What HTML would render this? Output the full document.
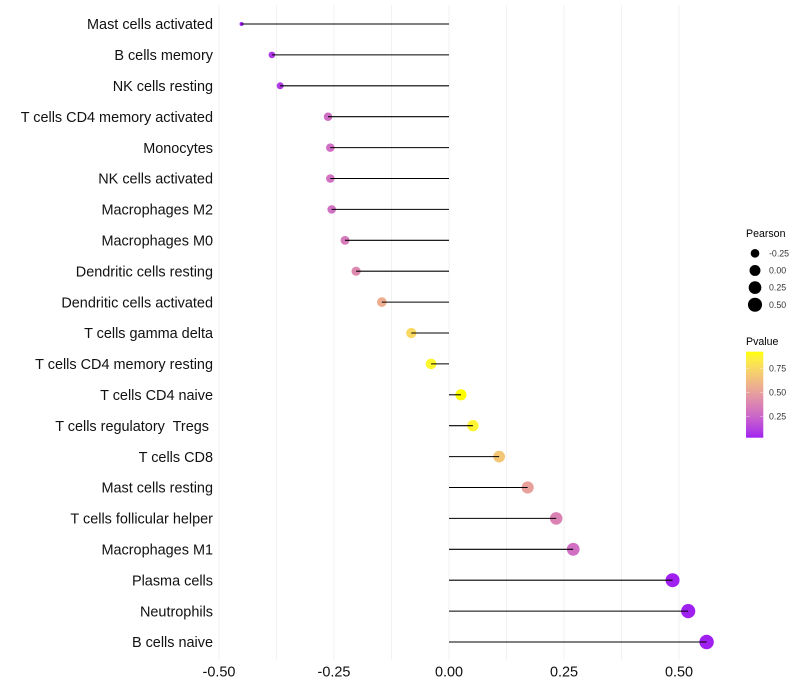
<!DOCTYPE html>
<html>
<head>
<meta charset="utf-8">
<title>Immune cell correlation lollipop chart</title>
<style>
html,body{margin:0;padding:0;background:#fff;}
svg{display:block;font-family:"Liberation Sans",sans-serif;}
text{white-space:pre;}
</style>
</head>
<body>
<svg id="chart" xmlns="http://www.w3.org/2000/svg" width="800" height="700" viewBox="0 0 800 700"></svg>
<script>
const categories = ["Mast cells activated","B cells memory","NK cells resting","T cells CD4 memory activated","Monocytes","NK cells activated","Macrophages M2","Macrophages M0","Dendritic cells resting","Dendritic cells activated","T cells gamma delta","T cells CD4 memory resting","T cells CD4 naive","T cells regulatory  Tregs ","T cells CD8","Mast cells resting","T cells follicular helper","Macrophages M1","Plasma cells","Neutrophils","B cells naive"];
const pearson = [-0.451,-0.385,-0.367,-0.263,-0.258,-0.258,-0.255,-0.226,-0.202,-0.146,-0.082,-0.039,0.026,0.052,0.109,0.171,0.233,0.27,0.486,0.52,0.56];
const pvalue = [0.03,0.09,0.1,0.28,0.29,0.3,0.3,0.34,0.4,0.56,0.75,0.88,0.92,0.87,0.67,0.5,0.37,0.29,0.03,0.03,0.03];
const xTicks = [-0.5,-0.25,0,0.25,0.5];
const xMinorTicks = [-0.375,-0.125,0.125,0.375];
const xTickLabels = ["-0.50","-0.25","0.00","0.25","0.50"];
const sizeLegendValues = [-0.25,0,0.25,0.5];
const sizeLegendLabels = ["-0.25","0.00","0.25","0.50"];
const colorLegendValues = [0.25,0.5,0.75];
const colorLegendLabels = ["0.25","0.50","0.75"];

const svg = document.getElementById('chart');
const NS = 'http://www.w3.org/2000/svg';
function add(parent, tag, attrs, txt){
  const e = document.createElementNS(NS, tag);
  for (const k in attrs) e.setAttribute(k, attrs[k]);
  if (txt !== undefined) e.textContent = txt;
  parent.appendChild(e);
  return e;
}
const xScale = v => 449 + v * 460;
const yScale = i => 24 + i * 30.9;
const pMin = 0.03, pMax = 0.92;
const rScale = v => {
  const t = Math.max(0, (v - (-0.451)) / (0.56 - (-0.451)));
  return (4 + 10.4 * Math.sqrt(t)) / 2;
};
function toLab(c){
  const f = u => { u /= 255; return u <= 0.04045 ? u / 12.92 : Math.pow((u + 0.055) / 1.055, 2.4); };
  const r = f(c[0]), g = f(c[1]), b = f(c[2]);
  const h = t => t > 0.008856 ? Math.cbrt(t) : 7.787 * t + 16 / 116;
  const X = h((0.4124 * r + 0.3576 * g + 0.1805 * b) / 0.95047);
  const Y = h(0.2126 * r + 0.7152 * g + 0.0722 * b);
  const Z = h((0.0193 * r + 0.1192 * g + 0.9505 * b) / 1.08883);
  return [116 * Y - 16, 500 * (X - Y), 200 * (Y - Z)];
}
function fromLab(l){
  const fy = (l[0] + 16) / 116, fx = l[1] / 500 + fy, fz = fy - l[2] / 200;
  const h = t => t * t * t > 0.008856 ? t * t * t : (t - 16 / 116) / 7.787;
  const X = h(fx) * 0.95047, Y = h(fy), Z = h(fz) * 1.08883;
  const g = u => { u = Math.min(1, Math.max(0, u)); return Math.round(255 * (u <= 0.0031308 ? 12.92 * u : 1.055 * Math.pow(u, 1 / 2.4) - 0.055)); };
  return 'rgb(' + g(3.2406 * X - 1.5372 * Y - 0.4986 * Z) + ',' + g(-0.9689 * X + 1.8758 * Y + 0.0415 * Z) + ',' + g(0.0557 * X - 0.204 * Y + 1.057 * Z) + ')';
}
const labLow = toLab([160, 32, 240]), labHigh = toLab([255, 255, 0]);
function colorScale(p){
  const t = Math.min(1, Math.max(0, (p - pMin) / (pMax - pMin)));
  return fromLab(labLow.map((v, i) => v + (labHigh[i] - v) * t));
}

// gridlines
const gridGroup = add(svg, 'g', {});


xMinorTicks.concat(xTicks).forEach(v => {
  const l = add(gridGroup, 'line', {x1: xScale(v), x2: xScale(v), y1: 5, y2: 660, stroke: '#f2f2f2', 'stroke-width': 1});
  
  
});

// points and stems
const markGroup = add(svg, 'g', {});


categories.forEach((c, i) => {
  const pt = add(markGroup, 'circle', {cx: xScale(pearson[i]), cy: yScale(i), r: rScale(pearson[i]), fill: colorScale(pvalue[i])});
  
  
  const st = add(markGroup, 'line', {x1: xScale(0), x2: xScale(pearson[i]), y1: yScale(i), y2: yScale(i), stroke: '#000', 'stroke-width': 1.07});
  
  
  const lb = add(svg, 'text', {x: 213, y: yScale(i) + 5.2, 'text-anchor': 'end', 'font-size': 14.45, fill: '#111'}, c);
  
  
});

// x axis labels
xTicks.forEach((v, i) => {
  const t = add(svg, 'text', {x: xScale(v), y: 676.5, 'text-anchor': 'middle', 'font-size': 14.45, fill: '#111'}, xTickLabels[i]);
  
  
});

// size legend
const sizeTitle = add(svg, 'text', {x: 746, y: 237, 'font-size': 10.6, fill: '#000'}, 'Pearson');


sizeLegendValues.forEach((v, i) => {
  const y = 253.3 + i * 17.15;
  const k = add(svg, 'circle', {cx: 755, cy: y, r: rScale(v), fill: '#000'});
  
  
  const t = add(svg, 'text', {x: 769, y: y + 3, 'font-size': 8.8, fill: '#333'}, sizeLegendLabels[i]);
  
  
});

// colour legend
const colorTitle = add(svg, 'text', {x: 746, y: 345, 'font-size': 10.6, fill: '#000'}, 'Pvalue');


const barTop = 351.7, barBottom = 437.7, barX = 746, barW = 17.3;
const colorY = p => 392.5 - (p - 0.5) * 96.8;
const defs = add(svg, 'defs', {});
const grad = add(defs, 'linearGradient', {id: 'pvalue-gradient', x1: 0, x2: 0, y1: 1, y2: 0});
for (let s = 0; s <= 20; s++) {
  add(grad, 'stop', {offset: s / 20, 'stop-color': colorScale(pMin + (pMax - pMin) * s / 20)});
}
const bar = add(svg, 'rect', {x: barX, y: barTop, width: barW, height: barBottom - barTop, fill: 'url(#pvalue-gradient)'});


colorLegendValues.forEach((p, i) => {
  const y = colorY(p);
  const a = add(svg, 'line', {x1: barX, x2: barX + 3.5, y1: y, y2: y, stroke: '#fff', 'stroke-opacity': 0.6, 'stroke-width': 0.6});
  
  
  const b = add(svg, 'line', {x1: barX + barW - 3.5, x2: barX + barW, y1: y, y2: y, stroke: '#fff', 'stroke-opacity': 0.6, 'stroke-width': 0.6});
  
  
  const t = add(svg, 'text', {x: 769, y: y + 3, 'font-size': 8.8, fill: '#333'}, colorLegendLabels[i]);
  
  
});
</script>
</body>
</html>
